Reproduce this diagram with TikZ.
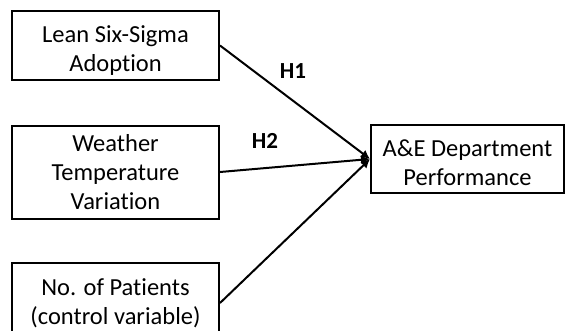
\documentclass[tikz,border=0pt]{standalone}
\usepackage{fontspec}
\setmainfont{Carlito}[Ligatures={NoCommon}]
\usetikzlibrary{arrows.meta}
\begin{document}
\begin{tikzpicture}[x=1pt,y=-1pt,
  box/.style={draw,line width=2pt,minimum width=207pt,align=center,font=\fontsize{24.5}{29}\selectfont,inner sep=0pt},
  lbl/.style={font=\fontsize{23}{26}\selectfont\bfseries},
  conn/.style={line width=2pt,-{Latex[length=9pt,width=9pt]}}]
\useasboundingbox (0,0) rectangle (567,330);
\node[box,minimum height=69pt,text height=56pt] (lss) at (115.5,45.5) {Lean Six-Sigma\\Adoption};
\node[box,minimum height=93pt] (wtv) at (115.5,172) {Weather\\Temperature\\Variation};
\node[box,minimum height=80pt] (nop) at (115.5,303) {No. of Patients\\(control variable)};
\node[box,minimum width=193pt,minimum height=68pt,text height=54pt] (aed) at (467.5,159) {A\&E Department\\Performance};
\coordinate (tip) at (aed.west);
\draw[conn] (lss.east) -- (tip);
\draw[conn] (wtv.east) -- (tip);
\draw[conn] (nop.east) -- (tip);
\node[lbl] (h1) at (293,71) {H1};
\node[lbl] (h2) at (265,141) {H2};
\end{tikzpicture}
\end{document}
